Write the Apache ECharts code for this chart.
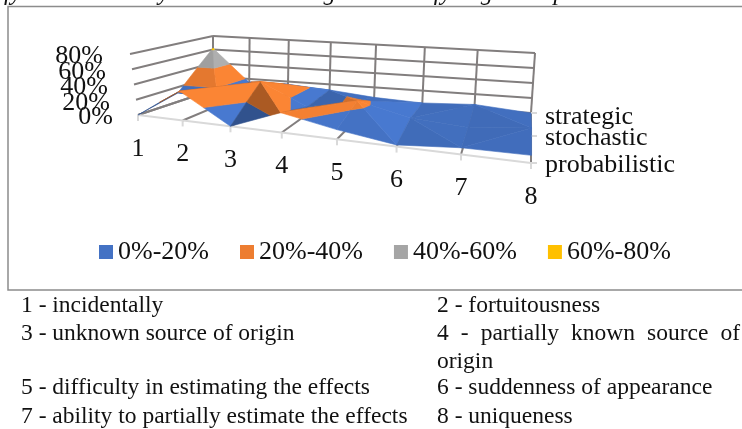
<!DOCTYPE html>
<html>
<head>
<meta charset="utf-8">
<script src="https://cdn.jsdelivr.net/npm/echarts@6/dist/echarts.min.js"></script>
<style>
html,body{margin:0;padding:0;background:#fff}
#main{width:742px;height:429px}
</style>
</head>
<body>
<div id="main"></div>
<script>
// categories and values
var categories = ['1','2','3','4','5','6','7','8'];
var rows = ['probabilistic','stochastic','strategic'];
var probabilistic = [0,38,0,25,12,2,8,9];
var stochastic = [12,10,38,10,24,8,3,10];
var strategic = [62,15,16,12,6,3,6,0];
var bands = ['0%-20%','20%-40%','40%-60%','60%-80%'];
var bandColors = ['#4472C4','#ED7D31','#A5A5A5','#FFC000'];
var zTicks = ['0%','20%','40%','60%','80%'];
var notesLeft = ['1 - incidentally','3 - unknown source of origin','5 - difficulty in estimating the effects','7 - ability to partially estimate the effects'];
var notesRight = ['2 - fortuitousness','origin','6 - suddenness of appearance','8 - uniqueness'];
var justified = ['4','-','partially','known','source','of'];
var values = [probabilistic,stochastic,strategic];

var FONT = '"Liberation Serif"';

// perspective squeeze along an edge
function warp(t,c){ return t/(t+c*(1-t)); }
function mix(p,q,t){ return [p[0]+(q[0]-p[0])*t,p[1]+(q[1]-p[1])*t]; }
// p0 front left, p1 front right, p2 back right, p3 back left
function quad(p0,p1,p2,p3){
    return function(u,v){
        var s=warp(u,1.3),t=warp(v,0.85);
        return mix(mix(p0,p1,s),mix(p3,p2,s),t);
    };
}
// floor and the 80% plane of the 3d box
var floor = quad([138,115],[531,163],[531,113],[213,90]);
var roof = quad([130,54],[536,95],[535,53],[213,36]);
function project(i,j,z){
    var u=i/(categories.length-1),v=j/(rows.length-1);
    return mix(floor(u,v),roof(u,v),z/80);
}

// cut a polygon at a z level
function clip(poly,limit,keepAbove){
    var out=[];
    for(var k=0;k<poly.length;k++){
        var p=poly[k],q=poly[(k+1)%poly.length];
        var pin=keepAbove?p[2]>=limit:p[2]<=limit;
        var qin=keepAbove?q[2]>=limit:q[2]<=limit;
        if(pin) out.push(p);
        if(pin!==qin){
            var t=(limit-p[2])/(q[2]-p[2]);
            out.push([p[0]+(q[0]-p[0])*t,p[1]+(q[1]-p[1])*t,limit]);
        }
    }
    return out;
}
function shade(hex,f){
    var n=parseInt(hex.slice(1),16);
    var c=[n>>16,(n>>8)&255,n&255].map(function(x){return Math.min(255,Math.round(x*f));});
    return 'rgb('+c.join(',')+')';
}

// triangles, the ridge goes along the higher diagonal
var tris=[];
for(var j=0;j<rows.length-1;j++){
    for(var i=0;i<categories.length-1;i++){
        var a=[i,j,values[j][i]],b=[i+1,j,values[j][i+1]];
        var c=[i+1,j+1,values[j+1][i+1]],d=[i,j+1,values[j+1][i]];
        if(a[2]+c[2]>=b[2]+d[2]) tris.push([a,b,c],[a,c,d]);
        else tris.push([a,b,d],[b,c,d]);
    }
}
// back to front: camera sits in front of the right end
tris.sort(function(p,q){
    function key(t){
        var cu=(t[0][0]+t[1][0]+t[2][0])/3,cv=(t[0][1]+t[1][1]+t[2][1])/3;
        return Math.floor(cv)*100-cu+(cv-Math.floor(cv))*0.9;
    }
    return key(q)-key(p);
});

var pieces=bands.map(function(){return [];});
tris.forEach(function(t,order){
    // slope along the categories sets the light
    var m=t[0][0]*(t[1][1]-t[2][1])+t[1][0]*(t[2][1]-t[0][1])+t[2][0]*(t[0][1]-t[1][1]);
    var dzdu=(t[0][2]*(t[1][1]-t[2][1])+t[1][2]*(t[2][1]-t[0][1])+t[2][2]*(t[0][1]-t[1][1]))/m;
    var f=Math.max(0.72,Math.min(1.06,0.96-dzdu*Math.abs(dzdu)*0.0004));
    bands.forEach(function(name,b){
        var poly=clip(clip(t,b*20,true),(b+1)*20,false);
        if(poly.length<3) return;
        pieces[b].push({
            points:poly.map(function(p){return project(p[0],p[1],p[2]);}),
            fill:shade(bandColors[b],f),
            order:order+10
        });
    });
});

function line(p,q,color,width){
    return {type:'line',shape:{x1:p[0],y1:p[1],x2:q[0],y2:q[1]},style:{stroke:color,lineWidth:width}};
}
function label(text,x,y,align,size){
    return {type:'text',x:x,y:y,style:{text:text,x:0,y:0,align:align,verticalAlign:'middle',font:size+'px '+FONT,fill:'#111'}};
}
var WALL='#827e7e',LIGHT='#d9d9d9';
var last=categories.length-1,back=rows.length-1;
function drawFrame(){
    var kids=[];
    zTicks.forEach(function(t,k){
        var z=k*20;
        // back wall + left wall
        kids.push(line(project(0,back,z),project(last,back,z),WALL,2));
        kids.push(line(project(0,back,z),project(0,0,z),WALL,2));
    });
    categories.forEach(function(c,i){
        kids.push(line(project(i,back,0),project(i,back,80),WALL,2));
        kids.push(line(project(i,0,0),project(i,back,0),WALL,2));
    });
    // front edge and ticks are lighter
    kids.push(line(project(0,0,0),project(last,0,0),LIGHT,2));
    categories.forEach(function(c,i){
        var p=project(i,0,0);
        kids.push(line(p,[p[0],p[1]+6],LIGHT,2));
        kids.push(label(c,p[0],p[1]+34,'center',26));
    });
    var rowY=[165,138,117];
    rows.forEach(function(r,j){
        var p=project(last,j,0);
        kids.push(line(p,[p[0]+6,p[1]],LIGHT,2));
        kids.push(label(r,545,rowY[j],'left',26));
    });
    var zX=[113,110,108,106,103],zY=[117,103,87,72,56];
    zTicks.forEach(function(t,k){
        kids.push(label(t,zX[k],zY[k],'right',26));
    });
    return {type:'group',children:kids};
}

var series=[{
    type:'custom',coordinateSystem:'none',silent:true,z:1,
    data:[[0]],
    renderItem:drawFrame
}];
bands.forEach(function(name,b){
    series.push({
        type:'custom',name:name,coordinateSystem:'none',silent:true,z:2,
        itemStyle:{color:bandColors[b]},
        data:pieces[b].map(function(p,i){return [i];}),
        renderItem:function(params){
            var p=pieces[b][params.dataIndex];
            return {type:'polygon',z2:p.order,shape:{points:p.points},
                style:{fill:p.fill,stroke:p.fill,lineWidth:0.6}};
        }
    });
});

// frame, cut-off caption and the notes under the chart
var NOTE='23.5px '+FONT;
var graphic=[
    {type:'polyline',shape:{points:[[742,6.5],[8,6.5],[8,290],[742,290]]},style:{stroke:'#8c8c8c',fill:null,lineWidth:1.5}},
    {type:'text',x:4,y:-19,style:{text:'fy a tool actually aimed at its target to modify cognitive processes.',font:'italic 24.5px '+FONT,fill:'#111'}}
];
var noteY=[306,334,388,417],noteY2=[306,362,388,417];
notesLeft.forEach(function(t,k){
    graphic.push({type:'text',x:21,y:noteY[k],style:{text:t,font:NOTE,fill:'#111',verticalAlign:'middle'}});
});
notesRight.forEach(function(t,k){
    graphic.push({type:'text',x:437,y:noteY2[k],style:{text:t,font:NOTE,fill:'#111',verticalAlign:'middle'}});
});
// the justified line of the notes
var ctx=document.createElement('canvas').getContext('2d');
ctx.font=NOTE;
var used=justified.reduce(function(s,w){return s+ctx.measureText(w).width;},0);
var gap=(740-437-used)/(justified.length-1),wx=437;
justified.forEach(function(w){
    graphic.push({type:'text',x:wx,y:334,style:{text:w,font:NOTE,fill:'#111',verticalAlign:'middle'}});
    wx+=ctx.measureText(w).width+gap;
});

var myChart=echarts.init(document.getElementById('main'),null,{renderer:'canvas'});
myChart.setOption({
    animation:false,
    backgroundColor:'#fff',
    color:bandColors,
    legend:{
        left:99,top:239,padding:0,icon:'rect',itemWidth:14,itemHeight:14,itemGap:31,
        selectedMode:false,
        data:bands,
        textStyle:{fontFamily:FONT,fontSize:26,color:'#111'}
    },
    graphic:graphic,
    series:series
});
</script>
</body>
</html>
